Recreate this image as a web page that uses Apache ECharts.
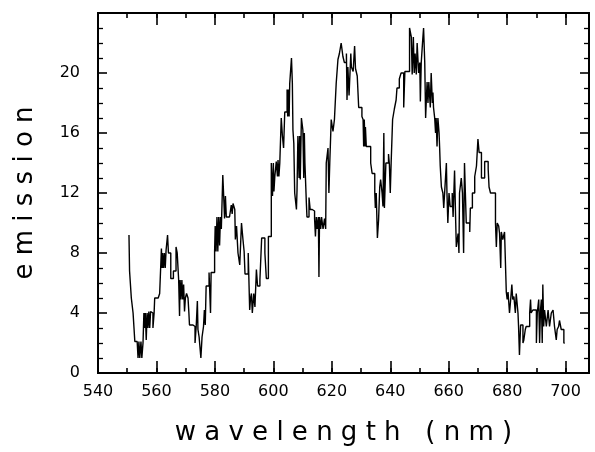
<!DOCTYPE html>
<html>
<head>
<meta charset="utf-8">
<script src="https://cdn.jsdelivr.net/npm/echarts@6/dist/echarts.min.js"></script>
<style>
  html, body { margin: 0; padding: 0; background: #fff; }
  #chart { width: 595px; height: 452px; }
</style>
</head>
<body>
<div id="chart"></div>
<script>
// 波长 (nm)，每个点的值保持到下一个点（阶梯线）
const wavelength = [
  550.6, 550.8, 551.4, 552.0, 552.6, 553.4, 553.7, 554.0, 554.3, 554.7,
  555.0, 555.4, 555.7, 555.9, 556.2, 556.5, 556.8, 557.1, 557.4, 557.7,
  558.0, 558.4, 558.8, 559.2, 559.4, 560.6, 561.1, 561.7, 561.9, 562.1,
  562.4, 562.7, 563.0, 563.3, 563.8, 564.1, 564.9, 565.8, 566.7, 567.1,
  567.6, 567.9, 568.1, 568.4, 568.7, 569.0, 569.3, 569.6, 569.9, 570.3,
  570.8, 571.1, 571.3, 572.5, 573.2, 573.6, 574.0, 574.2, 574.6, 575.2,
  575.6, 576.1, 576.4, 576.7, 577.0, 578.0, 578.5, 578.7, 579.9, 580.1,
  580.4, 580.7, 581.0, 581.3, 581.6, 581.9, 582.2, 582.7, 583.0, 583.3,
  583.6, 583.9, 585.0, 585.6, 585.9, 586.2, 586.8, 587.0, 587.4, 587.9,
  588.5, 589.1, 589.6, 590.0, 590.3, 591.4, 591.9, 592.2, 592.5, 592.8,
  593.3, 593.7, 594.2, 594.6, 595.4, 596.0, 597.1, 597.6, 598.3, 599.3,
  599.7, 600.0, 600.2, 600.5, 601.0, 601.4, 601.6, 601.9, 602.2, 602.7,
  603.1, 603.5, 603.9, 604.7, 604.9, 605.1, 605.4, 605.6, 606.2, 606.5,
  606.7, 607.0, 607.3, 607.9, 608.1, 608.4, 608.8, 609.0, 609.2, 609.6,
  610.1, 610.4, 610.6, 610.8, 611.3, 611.5, 612.2, 612.6, 613.3, 614.1,
  614.4, 614.7, 615.0, 615.4, 615.6, 615.8, 616.2, 616.5, 617.0, 617.5,
  617.9, 618.1, 618.7, 619.0, 619.3, 619.8, 620.4, 620.9, 621.5, 622.1,
  622.6, 623.2, 623.8, 624.3, 625.0, 625.2, 625.5, 625.9, 626.5, 626.7,
  627.3, 627.8, 628.1, 628.7, 629.2, 630.3, 630.7, 630.9, 631.1, 631.4,
  631.5, 631.8, 633.3, 633.8, 634.7, 634.9, 635.2, 635.6, 636.0, 636.4,
  636.7, 637.2, 637.5, 637.8, 638.0, 638.5, 639.4, 639.7, 640.0, 640.3,
  640.8, 641.4, 642.0, 642.3, 643.1, 643.7, 644.6, 645.0, 646.6, 647.2,
  647.5, 647.9, 648.2, 648.5, 648.9, 649.2, 649.7, 650.1, 650.3, 650.6,
  651.1, 651.4, 651.8, 652.1, 652.3, 652.6, 652.9, 653.2, 653.7, 654.0,
  654.4, 654.6, 654.8, 655.2, 655.5, 655.7, 656.0, 656.3, 656.7, 656.9,
  657.1, 657.5, 658.0, 658.3, 658.6, 659.2, 659.4, 659.7, 660.1, 660.5,
  661.2, 661.5, 662.0, 662.4, 662.6, 663.2, 663.5, 663.7, 664.3, 664.7,
  665.1, 665.4, 666.0, 667.2, 667.4, 668.1, 668.9, 669.5, 670.0, 670.4,
  671.2, 672.3, 673.5, 673.8, 674.3, 676.0, 676.3, 676.6, 677.1, 677.4,
  677.8, 678.0, 678.5, 679.1, 679.7, 680.0, 680.3, 680.8, 681.2, 681.6,
  681.9, 682.3, 682.8, 683.1, 683.7, 683.9, 684.2, 684.6, 685.4, 685.7,
  686.2, 686.5, 687.7, 688.0, 688.2, 688.8, 690.0, 690.3, 690.8, 691.1,
  691.4, 691.7, 692.0, 692.2, 692.5, 692.8, 693.4, 694.0, 694.5, 695.1,
  695.7, 696.2, 696.8, 697.1, 697.6, 697.9, 698.5, 699.4, 699.7
];

const emission = [
  9.2, 6.8, 5.0, 4.0, 2.1, 2.0, 1.0, 2.1, 1.0, 2.1,
  1.0, 2.0, 4.0, 3.0, 4.0, 2.2, 4.0, 3.0, 4.1, 3.0,
  4.1, 4.0, 3.0, 4.0, 5.0, 5.1, 5.3, 8.3, 7.0, 8.0,
  7.0, 8.0, 7.0, 8.2, 9.2, 8.0, 6.3, 6.8, 8.4, 8.0,
  6.2, 3.8, 6.2, 4.9, 6.2, 4.9, 5.9, 4.1, 5.0, 5.3,
  5.0, 4.0, 3.2, 3.1, 2.0, 3.1, 4.8, 2.9, 2.4, 1.0,
  2.4, 3.1, 4.2, 3.2, 5.8, 6.7, 4.0, 6.7, 8.1, 9.8,
  8.1, 10.4, 8.1, 10.4, 8.5, 10.4, 9.6, 13.2, 11.8, 10.3,
  11.8, 10.4, 10.3, 11.2, 10.6, 11.3, 10.9, 8.9, 9.8, 8.0,
  7.2, 10.0, 8.9, 8.1, 6.6, 8.0, 4.2, 5.0, 5.3, 4.0,
  5.3, 4.4, 6.9, 5.8, 6.2, 9.0, 8.0, 6.3, 9.1, 14.0,
  11.8, 14.0, 12.1, 13.1, 14.1, 13.1, 14.2, 13.1, 14.0, 17.0,
  15.8, 15.0, 17.4, 18.9, 17.1, 18.9, 17.1, 19.3, 21.0, 19.3,
  16.2, 15.3, 12.0, 10.9, 12.2, 15.8, 13.0, 15.8, 12.9, 17.0,
  16.2, 13.0, 16.0, 14.0, 11.3, 10.4, 11.7, 10.9, 10.8, 10.3,
  9.1, 10.4, 9.6, 10.4, 6.4, 10.4, 9.6, 10.4, 9.6, 10.3,
  9.6, 14.0, 15.0, 12.0, 14.0, 16.9, 16.1, 16.9, 19.3, 20.9,
  21.3, 22.0, 21.1, 20.7, 21.3, 18.2, 20.4, 18.5, 21.3, 20.4,
  20.1, 21.8, 20.3, 19.8, 17.7, 17.1, 16.9, 15.1, 16.9, 15.1,
  16.4, 15.1, 14.0, 13.3, 12.0, 11.0, 12.0, 9.0, 10.2, 12.4,
  12.9, 12.0, 11.1, 16.0, 11.0, 14.0, 14.6, 13.9, 12.0, 14.0,
  16.9, 17.6, 18.2, 19.0, 19.6, 20.0, 17.7, 20.1, 23.0, 22.4,
  19.9, 22.4, 20.0, 21.3, 19.9, 22.0, 20.0, 20.7, 18.1, 20.7,
  22.2, 23.0, 20.7, 17.0, 18.0, 19.4, 18.0, 19.4, 17.7, 20.0,
  18.0, 18.7, 17.7, 17.0, 16.0, 17.0, 15.1, 17.0, 16.0, 15.0,
  13.8, 12.4, 12.0, 11.0, 12.0, 14.0, 12.0, 10.0, 12.0, 11.1,
  12.0, 10.4, 13.5, 10.0, 8.4, 9.3, 8.0, 12.0, 13.0, 12.0,
  8.0, 14.0, 10.0, 9.4, 11.0, 12.0, 13.1, 13.8, 15.6, 14.7,
  13.0, 14.1, 13.6, 12.4, 12.0, 10.0, 8.4, 10.0, 9.8, 9.3,
  7.0, 9.4, 8.9, 9.4, 5.4, 4.9, 5.4, 4.0, 4.9, 5.9,
  4.9, 5.1, 4.0, 5.3, 4.0, 3.1, 1.2, 3.2, 2.0, 2.2,
  2.9, 3.1, 4.0, 4.9, 4.0, 4.2, 2.0, 4.0, 4.9, 2.0,
  4.2, 4.9, 2.0, 5.9, 3.1, 4.2, 3.1, 4.2, 3.1, 4.0,
  4.2, 3.1, 2.2, 2.9, 3.1, 3.5, 2.9, 2.0, 2.0
];

const xRange = [540, 708];
const yRange = [0, 24];
const xLabelStep = 20;
const xMinorStep = 10;
const yLabelStep = 4;

const font = "DejaVu Sans";
const black = "#000";

// 给字母之间加空格，模拟原图的宽字距
const spaced = (s) => s.split("").join(" ");

const chart = echarts.init(document.getElementById("chart"), null, { renderer: "canvas" });

const frameLine = { show: true, lineStyle: { color: black, width: 2 } };

// x 轴：主刻度(带标签)和次刻度分开画，上下各一组
const makeX = (position, showLabel, step, tickLen, withName) => ({
  type: "value",
  position,
  min: xRange[0],
  max: xRange[1],
  interval: step,
  axisLine: frameLine,
  axisTick: { show: true, inside: true, length: tickLen, lineStyle: { color: black, width: 1.6 } },
  axisLabel: {
    show: showLabel,
    showMaxLabel: false,
    margin: 11,
    color: black,
    fontFamily: font,
    fontSize: 16,
  },
  splitLine: { show: false },
  name: withName ? spaced("wavelength (nm)") : "",
  nameLocation: "middle",
  nameGap: 47,
  nameTextStyle: { color: black, fontFamily: font, fontSize: 26 },
});

const makeY = (position, showLabel, withName) => ({
  type: "value",
  position,
  min: yRange[0],
  max: yRange[1],
  interval: yLabelStep,
  axisLine: frameLine,
  axisTick: { show: true, inside: true, length: 9, lineStyle: { color: black, width: 1.6 } },
  minorTick: { show: true, splitNumber: 4, length: 5, lineStyle: { color: black, width: 1.3 } },
  axisLabel: {
    show: showLabel,
    showMaxLabel: false,
    margin: 18,
    color: black,
    fontFamily: font,
    fontSize: 16,
  },
  splitLine: { show: false },
  minorSplitLine: { show: false },
  name: withName ? spaced("emission") : "",
  nameLocation: "middle",
  nameGap: 60,
  nameTextStyle: { color: black, fontFamily: font, fontSize: 26 },
});

const points = wavelength.map((w, i) => [w, emission[i]]);

chart.setOption({
  animation: false,
  backgroundColor: "#fff",
  grid: { left: 98, right: 6, top: 13, bottom: 79 },
  xAxis: [
    makeX("bottom", true, xLabelStep, 12, true),
    makeX("bottom", false, xMinorStep, 5, false),
    makeX("top", false, xLabelStep, 12, false),
    makeX("top", false, xMinorStep, 5, false),
  ],
  yAxis: [
    makeY("left", true, true),
    makeY("right", false, false),
  ],
  series: [
    {
      type: "line",
      step: "end",
      xAxisIndex: 0,
      yAxisIndex: 0,
      data: points,
      showSymbol: false,
      lineStyle: { color: black, width: 1.4 },
    },
  ],
});
</script>
</body>
</html>
